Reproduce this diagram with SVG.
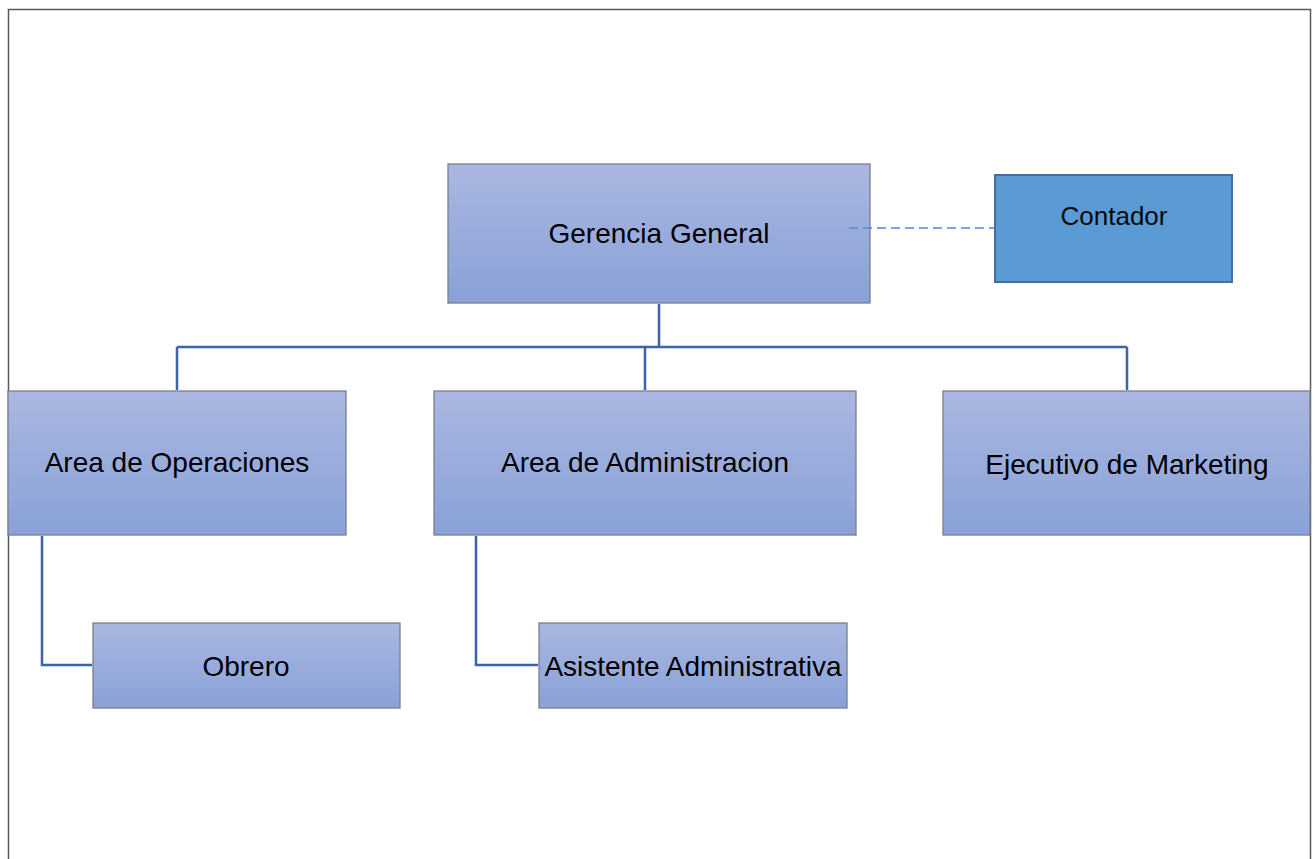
<svg xmlns="http://www.w3.org/2000/svg" width="1315" height="859" viewBox="0 0 1315 859">
<style>
.box{fill:url(#g);stroke:#7a7f8c;stroke-width:1.3}
.lbl{font-family:"Liberation Sans",Arial,sans-serif;font-size:28px;fill:#000;text-anchor:middle}
.con{fill:none;stroke:#3d62a8;stroke-width:2.5}
</style>
<defs>
<linearGradient id="g" x1="0" y1="0" x2="0" y2="1">
<stop offset="0" stop-color="#aab7e0"/>
<stop offset="1" stop-color="#89a1d8"/>
</linearGradient>
</defs>
<rect x="0" y="0" width="1315" height="859" fill="#fff"/>
<path d="M8.5,859 V9.5 H1310.5 V859" fill="none" stroke="#5a5a5a" stroke-width="1.5"/>
<g id="gerencia">
<rect class="box" x="448" y="164" width="422" height="139"/>
<text class="lbl" x="659" y="243">Gerencia General</text>
</g>
<g id="contador">
<rect x="995" y="175" width="237" height="107" fill="#5b9bd5" stroke="#41719c" stroke-width="2"/>
<text x="1114" y="225" font-family="Liberation Sans, Arial, sans-serif" font-size="26" text-anchor="middle" fill="#0a0a0a">Contador</text>
</g>
<g id="operaciones">
<rect class="box" x="8" y="391" width="338" height="144"/>
<text class="lbl" x="177" y="472">Area de Operaciones</text>
</g>
<g id="administracion">
<rect class="box" x="434" y="391" width="422" height="144"/>
<text class="lbl" x="645" y="472">Area de Administracion</text>
</g>
<g id="marketing">
<rect class="box" x="943" y="391" width="367" height="144"/>
<text class="lbl" x="1127" y="474">Ejecutivo de Marketing</text>
</g>
<g id="obrero">
<rect class="box" x="93" y="623" width="307" height="85"/>
<text class="lbl" x="246" y="676">Obrero</text>
</g>
<g id="asistente">
<rect class="box" x="539" y="623" width="308" height="85"/>
<text class="lbl" x="693" y="676">Asistente Administrativa</text>
</g>
<g id="connectors">
<path class="con" d="M659,304 V347 M177,347 H1127 M177,347 V390 M645,347 V390 M1127,347 V390"/>
<path class="con" d="M42,536 V665 H92"/>
<path class="con" d="M476,536 V665 H538"/>
<path d="M849,228 H994" fill="none" stroke="#5a86cc" stroke-width="1.3" stroke-dasharray="9,5"/>
</g>
</svg>
